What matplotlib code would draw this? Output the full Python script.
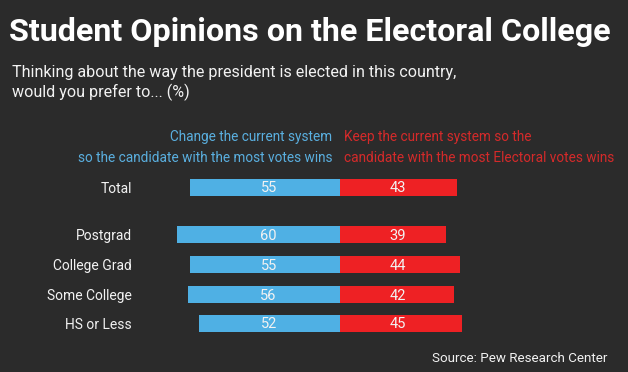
import matplotlib
matplotlib.use("Agg")
import matplotlib.pyplot as plt

categories = ["Total", "Postgrad", "College Grad", "Some College", "HS or Less"]
change_vals = [55, 60, 55, 56, 52]
keep_vals = [43, 39, 44, 42, 45]

BG = "#2b2b2b"
BLUE = "#4fb0e4"
RED = "#ee2124"
BLUE_TXT = "#5aafdf"
RED_TXT = "#d42a2a"
WHITE = "#f2f2f2"
FONT = "Roboto"

W, H = 628, 372
fig = plt.figure(figsize=(W / 100, H / 100), dpi=100, facecolor=BG)

# bar axes: x in percentage units, y in pixel rows
ax = fig.add_axes([0, 0, 1, 1])
ax.set_facecolor(BG)
cx, scale = 340.0, 2.72
ax.set_xlim(-cx / scale, (W - cx) / scale)
ax.set_ylim(H, 0)
ax.axis("off")

row_y = [187.5, 234.5, 264.5, 294.5, 323.5]
bar_h = 17

ax.barh(row_y, [-v for v in change_vals], height=bar_h, color=BLUE, align="center")
ax.barh(row_y, keep_vals, height=bar_h, color=RED, align="center")

blue_lab_x = (268.6 - cx) / scale
red_lab_x = (398 - cx) / scale
label_x = (132 - cx) / scale
for y, cat, c, k in zip(row_y, categories, change_vals, keep_vals):
    ax.text(blue_lab_x, y + 1, str(c), ha="center", va="center", color=WHITE,
            fontsize=10.5, family=FONT)
    ax.text(red_lab_x, y + 1, str(k), ha="center", va="center", color=WHITE,
            fontsize=10.5, family=FONT)
    ax.text(label_x, y + 1.5, cat, ha="right", va="center", color=WHITE,
            fontsize=10, family=FONT)

# text overlay in pixel coordinates
tx = fig.add_axes([0, 0, 1, 1], facecolor="none")
tx.set_xlim(0, W)
tx.set_ylim(H, 0)
tx.axis("off")

tx.text(9, 41, "Student Opinions on the Electoral College", ha="left",
        va="baseline", color="white", fontsize=23.2, fontweight="bold", family=FONT)
tx.text(12, 77, "Thinking about the way the president is elected in this country,",
        ha="left", va="baseline", color=WHITE, fontsize=11.6, family=FONT)
tx.text(12, 97, "would you prefer to... (%)",
        ha="left", va="baseline", color=WHITE, fontsize=11.6, family=FONT)

tx.text(332, 137, "Change the current system", ha="right", va="center",
        color=BLUE_TXT, fontsize=9.8, family=FONT)
tx.text(332, 158, "so the candidate with the most votes wins", ha="right", va="center",
        color=BLUE_TXT, fontsize=9.8, family=FONT)
tx.text(344, 137, "Keep the current system so the", ha="left", va="center",
        color=RED_TXT, fontsize=9.8, family=FONT)
tx.text(344, 158, "candidate with the most Electoral votes wins", ha="left", va="center",
        color=RED_TXT, fontsize=9.8, family=FONT)

tx.text(607, 358, "Source: Pew Research Center", ha="right", va="center",
        color=WHITE, fontsize=9.6, family=FONT)

fig.savefig("out.png", dpi=100, facecolor=BG)
